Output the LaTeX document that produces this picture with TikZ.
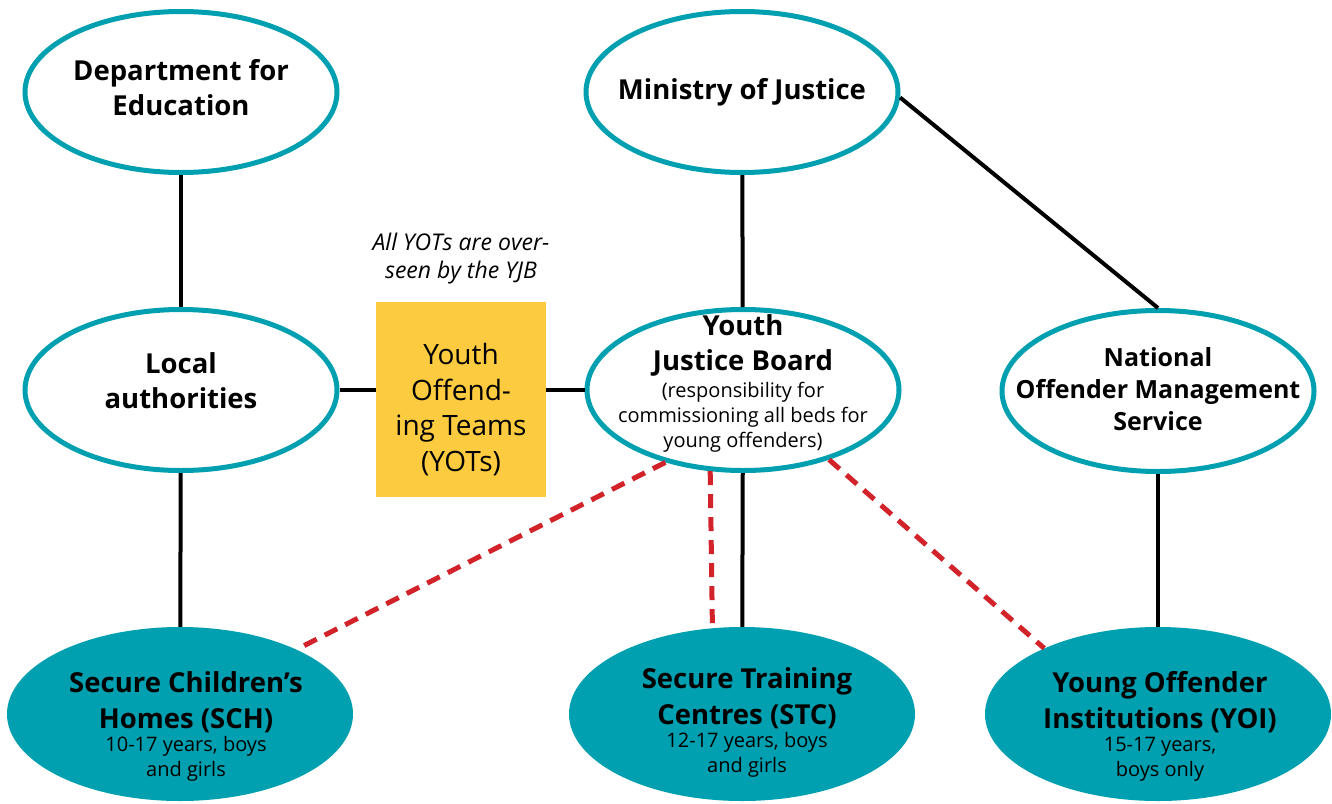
\documentclass[tikz,border=0pt]{standalone}
\usepackage{fontspec}
\setmainfont{Open Sans}
\usetikzlibrary{shapes.geometric}
\definecolor{yjbteal}{HTML}{00A0B0}
\definecolor{yotyellow}{HTML}{FDCB40}
\definecolor{dashred}{HTML}{D2232A}

\begin{document}
\begin{tikzpicture}[x=1pt, y=-1pt,
    body/.style={ellipse, draw=yjbteal, line width=5pt, fill=white, minimum width=312pt, minimum height=161pt, inner sep=0pt},
    unit/.style={ellipse, fill=yjbteal, minimum width=346pt, minimum height=174pt, inner sep=0pt},
    yotbox/.style={rectangle, fill=yotyellow, minimum width=170pt, minimum height=195pt, inner sep=0pt},
    big/.style={font=\fontsize{27.5}{35}\selectfont\bfseries, align=center, inner sep=0pt},
    small/.style={font=\fontsize{20}{25}\selectfont, align=center, inner sep=0pt},
    link/.style={line width=4pt},
    bedlink/.style={line width=5pt, dashred, dash pattern=on 14pt off 9pt}]
    \useasboundingbox (0,0) rectangle (1332,803);
    % bodies
    \node[body] (dfe) at (181,92) {};
    \node[body] (moj) at (742,92) {};
    \node[body] (la) at (181,390) {};
    \node[body] (yjb) at (743,390) {};
    \node[body] (noms) at (1158,391) {};
    \node[yotbox] (yot) at (461,399.5) {};
    % secure estate
    \node[unit] (sch) at (180,714) {};
    \node[unit] (stc) at (742,714) {};
    \node[unit] (yoi) at (1158,714) {};
    % texts
    \node[big, yshift=4pt] (dfetxt) at (dfe) {Department for\\Education};
    \node[big] (mojtxt) at (moj) {Ministry of Justice};
    \node[big, yshift=9.5pt] (latxt) at (la) {Local\\authorities};
    \node[big, yshift=45pt] (yjbtxt) at (yjb) {Youth\\Justice Board};
    \node[small, yshift=-27pt] (yjbnote) at (yjb) {(responsibility for\\commissioning all beds for\\young offenders)};
    \node[big, font=\fontsize{25}{32}\selectfont\bfseries, yshift=2pt] (nomstxt) at (noms) {National\\Offender Management\\Service};
    \node[big, font=\fontsize{28}{35.7}\selectfont, yshift=-10pt] (yottxt) at (yot) {Youth\\Offend-\\ing Teams\\(YOTs)};
    \node[small, font=\fontsize{23}{28}\selectfont\itshape] (yotnote) at (461,258.75) {All YOTs are over-\\seen by the YJB};
    \node[big, font=\fontsize{27.5}{36}\selectfont\bfseries, xshift=6pt, yshift=11.5pt] (schtxt) at (sch) {Secure Children’s\\Homes (SCH)};
    \node[small, xshift=6pt, yshift=-45pt] (schnote) at (sch) {10-17 years, boys\\and girls};
    \node[big, font=\fontsize{27.5}{36}\selectfont\bfseries, xshift=5pt, yshift=15.5pt] (stctxt) at (stc) {Secure Training\\Centres (STC)};
    \node[small, xshift=5pt, yshift=-41pt] (stcnote) at (stc) {12-17 years, boys\\and girls};
    \node[big, font=\fontsize{27.5}{36}\selectfont\bfseries, xshift=2pt, yshift=12pt] (yoitxt) at (yoi) {Young Offender\\Institutions (YOI)};
    \node[small, xshift=2pt, yshift=-45pt] (yoinote) at (yoi) {15-17 years,\\boys only};
    % lines of oversight
    \draw[link] (dfe) -- (la);
    \draw[link] (moj) -- (yjb);
    \draw[link] (moj.358) -- (noms.north);
    \draw[link] (la.east) -- (la.east -| yot.west);
    \draw[link] (yjb.west -| yot.east) -- (yjb.west);
    \draw[link] (la) -- (sch);
    \draw[link] (yjb) -- (stc);
    \draw[link] (noms) -- (yoi);
    % commissioning
    \draw[bedlink] (yjb.223) -- (sch.29);
    \draw[bedlink] (yjb.248) -- (stc.109);
    \draw[bedlink] (yjb.321) -- (yoi.150);
\end{tikzpicture}
\end{document}
